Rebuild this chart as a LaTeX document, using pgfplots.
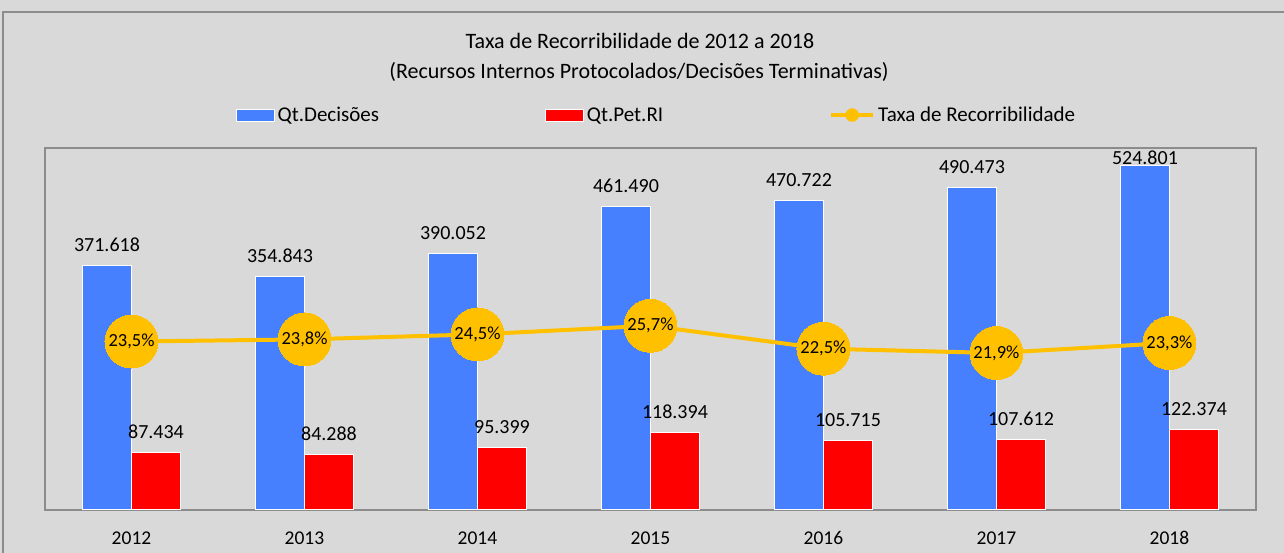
\documentclass[border=0pt]{standalone}
\usepackage{pgfplots}
\pgfplotsset{compat=1.18}
\usepackage{pgfplotstable}
\usepackage{fontspec}
\setmainfont{Carlito}
\definecolor{bgc}{HTML}{D9D9D9}
\definecolor{bblue}{HTML}{4680FF}
\definecolor{rred}{HTML}{FF0000}
\definecolor{yel}{HTML}{FFC000}
\definecolor{brd}{HTML}{8C8C8C}

\pgfplotstableread{
x y lbl sh
0 371618 371.618 0
1 354843 354.843 0
2 390052 390.052 0
3 461490 461.490 0
4 470722 470.722 0
5 490473 490.473 0
6 524801 524.801 -13
}\decisoes

\pgfplotstableread{
x y lbl sh
0 87434 87.434 0
1 84288 84.288 0
2 95399 95.399 0
3 118394 118.394 0
4 105715 105.715 0
5 107612 107.612 0
6 122374 122.374 0
}\petri

\pgfplotstableread{
x y lbl
0 23.5 23,5
1 23.8 23,8
2 24.5 24,5
3 25.7 25,7
4 22.5 22,5
5 21.9 21,9
6 23.3 23,3
}\taxa

\begin{document}
\begin{tikzpicture}[x=1pt,y=1pt]
\path[use as bounding box] (0,0) rectangle (1284,553);
\fill[bgc] (0,0) rectangle (1284,553);
\draw[brd, line width=1.5pt] (3,-5) -- (3,541) -- (1290,541);
\node[font=\fontsize{22}{25}\selectfont] at (640,512) {Taxa de Recorribilidade de 2012 a 2018};
\node[font=\fontsize{22}{25}\selectfont] at (639,481) {(Recursos Internos Protocolados/Decisões Terminativas)};

\begin{axis}[
  at={(45pt,43pt)}, anchor=south west,
  width=1211pt, height=362pt, scale only axis,
  xmin=-0.5, xmax=6.5, ymin=0, ymax=551000,
  axis line style={brd, line width=1.5pt},
  xtick={0,1,2,3,4,5,6},
  xticklabels={2012,2013,2014,2015,2016,2017,2018},
  major tick length=0pt, ytick=\empty,
  xticklabel style={font=\fontsize{19.5}{22}\selectfont, anchor=base, yshift=-35pt},
  ybar, bar width=49pt, clip=false,
  legend columns=3,
  legend style={at={(axis description cs:0.505,1.091)}, anchor=center,
    draw=none, fill=none, font=\fontsize{21}{24}\selectfont,
    /tikz/every even column/.append style={column sep=164pt},
    /tikz/every odd column/.append style={column sep=1pt}},
]
\addplot[fill=bblue, draw=white, line width=1pt, bar shift=-24.5pt,
  point meta=explicit symbolic,
  visualization depends on={\thisrow{sh} \as \shv},
  nodes near coords,
  nodes near coords style={font=\fontsize{20}{23}\selectfont, text=black, inner sep=0pt, anchor=base, yshift=14pt},
  every node near coord/.append style={yshift=\shv pt},
  legend image code/.code={\filldraw[fill=bblue, draw=white, line width=0.8pt] (0pt,-6pt) rectangle (38pt,6pt);}]
  table[x=x,y=y,meta=lbl] {\decisoes};
\addlegendentry{Qt.Decisões}
\addplot[fill=rred, draw=white, line width=1pt, bar shift=24.5pt,
  point meta=explicit symbolic,
  nodes near coords,
  nodes near coords style={font=\fontsize{20}{23}\selectfont, text=black, inner sep=0pt, anchor=base, yshift=14pt},
  legend image code/.code={\filldraw[fill=rred, draw=white, line width=0.8pt] (0pt,-6pt) rectangle (38pt,6pt);}]
  table[x=x,y=y,meta=lbl] {\petri};
\addlegendentry{Qt.Pet.RI}
\addlegendimage{legend image code/.code={\draw[yel, line width=4pt] (0pt,0pt) -- (42pt,0pt); \fill[yel] (21pt,0pt) circle (6.5pt);}}
\addlegendentry{Taxa de Recorribilidade}
\end{axis}

\begin{axis}[
  at={(45pt,43pt)}, anchor=south west,
  width=1211pt, height=362pt, scale only axis,
  xmin=-0.5, xmax=6.5, ymin=0, ymax=50.5,
  hide axis, clip=false,
]
\addplot[yel, line width=4pt, mark=*, mark size=26.5pt,
  mark options={fill=yel, draw=yel, line width=0pt},
  point meta=explicit symbolic,
  nodes near coords={\pgfplotspointmeta\%},
  nodes near coords style={anchor=center, font=\fontsize{18.5}{21}\selectfont, text=black}]
  table[x=x,y=y,meta=lbl] {\taxa};
\end{axis}
\end{tikzpicture}
\end{document}
